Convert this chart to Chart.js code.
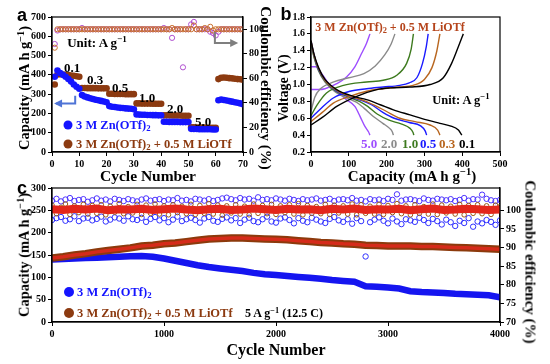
<!DOCTYPE html>
<html>
<head>
<meta charset="utf-8">
<script src="https://cdn.jsdelivr.net/npm/chart.js@4.4.1/dist/chart.umd.min.js"></script>
<style>
  body { margin:0; width:550px; height:364px; position:relative; overflow:hidden; background:#fff;
         font-family:"Liberation Serif","Times New Roman",serif; font-weight:bold; color:#000; }
  canvas { position:absolute; }
  .t { position:absolute; white-space:nowrap; line-height:1; transform:translate(-50%,-50%); }
  .l { position:absolute; white-space:nowrap; line-height:1; transform:translate(0,-50%); }
  .up { transform:translate(-50%,-50%) rotate(-90deg); }
  .dn { transform:translate(-50%,-50%) rotate(90deg); }
  .pl { font-family:"Liberation Sans",Arial,sans-serif; font-size:18px; }
  sub { font-size:70%; vertical-align:-0.25em; line-height:0; }
  sup { font-size:70%; vertical-align:0.5em; line-height:0; }
  .dot { position:absolute; border-radius:50%; transform:translate(-50%,-50%); width:9px; height:9px; }
</style>
</head>
<body>
<canvas id="ca" width="245" height="170" style="left:25px;top:0"></canvas>
<canvas id="cb" width="227" height="170" style="left:285px;top:0"></canvas>
<canvas id="cc" width="499" height="162" style="left:25px;top:178px"></canvas>

<!-- panel a text -->
<div class="t pl" style="left:22px;top:15px">a</div>
<div class="t" style="left:97px;top:42px;font-size:13px">Unit: A g<sup>−1</sup></div>
<div class="t" style="left:72px;top:67px;font-size:13px">0.1</div>
<div class="t" style="left:95px;top:79px;font-size:13px">0.3</div>
<div class="t" style="left:120px;top:87px;font-size:13px">0.5</div>
<div class="t" style="left:147px;top:97px;font-size:13px">1.0</div>
<div class="t" style="left:175px;top:108px;font-size:13px">2.0</div>
<div class="t" style="left:203px;top:121px;font-size:13px">5.0</div>
<div class="dot" style="left:68px;top:125px;background:#1414ff"></div>
<div class="l" style="left:76px;top:125px;font-size:12.5px;color:#1414ff">3 M Zn(OTf)<sub>2</sub></div>
<div class="dot" style="left:68px;top:144px;background:#8c3a10"></div>
<div class="l" style="left:76px;top:144px;font-size:12.5px;color:#8c3a10">3 M Zn(OTf)<sub>2</sub> + 0.5 M LiOTf</div>
<div class="t up" style="left:24px;top:88px;font-size:14.5px">Capacity (mA h g<sup>−1</sup>)</div>
<div class="t dn" style="left:265px;top:88px;font-size:15px">Coulombic efficiency (%)</div>
<div class="t" style="left:148px;top:176px;font-size:15.5px">Cycle Number</div>

<!-- panel b text -->
<div class="t pl" style="left:286px;top:14px">b</div>
<div class="t" style="left:390px;top:27px;font-size:12px;color:#b5441b">3 M Zn(OTf)<sub>2</sub> + 0.5 M LiOTf</div>
<div class="t" style="left:461px;top:100px;font-size:12.5px">Unit: A g<sup>−1</sup></div>
<div class="t" style="left:369px;top:143px;font-size:13px;color:#9d4dff">5.0</div>
<div class="t" style="left:389px;top:143px;font-size:13px;color:#8a8a8a">2.0</div>
<div class="t" style="left:410px;top:143px;font-size:13px;color:#3d7a1e">1.0</div>
<div class="t" style="left:428px;top:143px;font-size:13px;color:#1a1aff">0.5</div>
<div class="t" style="left:447px;top:143px;font-size:13px;color:#b8661f">0.3</div>
<div class="t" style="left:467px;top:143px;font-size:13px">0.1</div>
<div class="t up" style="left:284px;top:88px;font-size:14px">Voltage (V)</div>
<div class="t" style="left:412px;top:176px;font-size:15px">Capacity (mA h g<sup>−1</sup>)</div>

<!-- panel c text -->
<div class="t pl" style="left:22px;top:188px">c</div>
<div class="dot" style="left:69px;top:292px;width:10px;height:10px;background:#1414ff"></div>
<div class="l" style="left:77px;top:292px;font-size:12.5px;color:#1414ff">3 M Zn(OTf)<sub>2</sub></div>
<div class="dot" style="left:69px;top:313px;width:10px;height:10px;background:#8c3a10"></div>
<div class="l" style="left:77px;top:313px;font-size:12.5px;color:#8c3a10">3 M Zn(OTf)<sub>2</sub> + 0.5 M LiOTf</div>
<div class="t" style="left:284px;top:313px;font-size:12px">5 A g<sup>−1</sup> (12.5 C)</div>
<div class="t up" style="left:24px;top:255px;font-size:14.5px">Capacity (mA h g<sup>−1</sup>)</div>
<div class="t dn" style="left:530px;top:262px;font-size:15px">Coulombic efficiency (%)</div>
<div class="t" style="left:276px;top:350px;font-size:16px">Cycle Number</div>

<script>
// ---------- panel a: rate capability ----------
const cycA = Array.from({length: 70}, (_, i) => i + 1);
const capZnA = [390,422,410,400,390,378,365,350,338,328,
                295,288,283,279,275,271,268,265,262,258,
                238,235,233,231,229,228,226,225,224,222,
                195,194,193,193,192,192,191,191,190,190,
                157,157,156,156,156,156,155,155,155,155,
                120,119,119,118,118,118,118,118,117,117,
                268,272,270,267,264,261,258,255,252,248];
const capLiA = [350,402,403,402,400,399,397,395,393,390,
                332,332,331,331,331,331,330,330,330,330,
                302,302,301,301,301,301,300,300,300,300,
                252,252,251,251,251,251,250,250,250,250,
                190,190,190,189,189,189,189,188,188,188,
                128,128,127,127,127,127,126,126,126,125,
                378,385,386,385,383,382,380,378,377,375];
const ceZnA = [88,99,100,100,100,100,100,100,100,100,
               101,100,100,100,100,100,100,100,100,100,
               100,100,100,100,100,100,100,100,100,100,
               100,100,100,100,100,100,100,100,100,100,
               101,100,100,93,100,100,100,69,100,100,
               104,106,100,100,100,100,100,98,97,95,
               98,100,100,100,100,100,100,100,100,100];
const ceLiA = [85,100,100,100,100,100,100,100,100,100,
               100,100,100,100,100,100,100,100,100,100,
               100,100,100,100,100,100,100,100,100,100,
               100,100,100,100,100,100,100,100,100,100,
               100,100,100,101,100,100,100,100,100,100,
               100,103,100,100,100,101,100,102,99,100,
               100,100,100,100,100,100,100,100,100,100];

// ---------- panel b: charge / discharge profiles ----------
const rateLabels = ['0.1','0.3','0.5','1.0','2.0','5.0'];
const rateColors = ['#000000','#b8661f','#1a1aff','#3d7a1e','#8a8a8a','#9d4dff'];
const disCap = [
  [0,8,20,37,68,112,147,183,218,262,306,341,368,390,399],
  [0,8,20,37,68,110,140,170,200,235,275,315,335,341],
  [0,8,20,37,68,105,135,160,190,220,260,290,302,306],
  [0,8,20,37,66,100,128,150,175,205,240,262,270,272],
  [0,8,20,37,65,95,120,140,165,190,208,215,218],
  [0,12,25,45,68,94,116,130,143,152,156]
];
const disV = [
  [1.52,1.36,1.2,1.06,0.94,0.86,0.82,0.76,0.70,0.64,0.58,0.54,0.51,0.46,0.40],
  [1.52,1.35,1.19,1.05,0.93,0.85,0.81,0.75,0.68,0.60,0.56,0.52,0.46,0.40],
  [1.52,1.35,1.18,1.05,0.92,0.85,0.81,0.76,0.67,0.60,0.55,0.51,0.45,0.40],
  [1.50,1.33,1.17,1.04,0.92,0.85,0.80,0.74,0.65,0.58,0.53,0.48,0.43,0.40],
  [1.48,1.32,1.16,1.03,0.91,0.84,0.79,0.72,0.62,0.54,0.48,0.44,0.40],
  [1.21,1.21,1.15,1.02,0.92,0.82,0.74,0.62,0.50,0.44,0.40]
];
const chgCap = [
  [0,30,68,121,174,209,262,315,350,372,390,403],
  [0,30,59,103,147,191,235,270,300,320,333,341],
  [0,25,59,103,147,191,235,260,280,295,305,310],
  [0,15,41,86,147,191,227,253,265,271],
  [0,10,25,60,100,140,170,195,212,222],
  [0,20,37,68,94,116,134,147,156]
];
const chgV = [
  [0.52,0.61,0.74,0.86,0.94,0.96,0.97,1.00,1.08,1.25,1.45,1.60],
  [0.56,0.67,0.78,0.86,0.92,0.95,0.97,0.99,1.06,1.20,1.40,1.60],
  [0.60,0.71,0.84,0.92,0.95,0.97,0.99,1.02,1.08,1.25,1.45,1.60],
  [0.63,0.75,0.90,0.99,1.03,1.05,1.11,1.25,1.42,1.60],
  [0.68,0.85,0.95,1.03,1.08,1.13,1.22,1.35,1.48,1.60],
  [0.94,0.94,0.95,1.01,1.09,1.21,1.37,1.49,1.60]
];

// ---------- panel c: long cycling at 5 A/g ----------
const capZnC = [140,141,142,143,144,145,146,147,148,146,
                142,137,132,127,123,120,117,114,110,107,
                105,103,101,99,97,94,92,90,80,79,
                77,75,69,67,66,65,63,62,61,60,55];
const capLiC = [143,146,150,153,157,160,163,166,170,172,
                175,177,180,183,186,187,188,188,187,186,
                185,184,182,180,178,177,175,174,172,171,
                170,170,170,169,169,168,167,166,165,164,163];
const ceZnHiC = [102.6,103.1,102.4,102.9,103.3,102.5,102.8,103.0,102.3,102.7,
                 103.2,102.6,102.9,102.4,103.1,102.8,102.5,103.0,102.7,102.4,
                 102.9,103.2,102.6,102.8,103.0,102.5,102.9,102.7,103.3,102.6,
                 102.8,102.4,103.1,102.9,102.6,103.0,102.5,102.8,103.2,103.4,
                 103.0,102.7,103.3,102.9,103.1,102.6,103.5,102.8,103.0,102.7,
                 103.2,102.9,102.6,103.1,102.8,102.5,103.0,102.7,102.9,103.2,
                 102.6,102.8,103.1,102.5,102.9,103.0,102.7,103.3,102.6,102.8,
                 102.4,103.0,102.7,102.9,102.5,103.1,102.8,104.3,102.6,102.9,
                 103.0,102.7,102.5,103.2,102.8,102.6,103.1,102.9,102.7,103.0,
                 102.5,102.8,103.3,102.6,103.0,102.9,104.2,103.1,102.7,102.5,102.8];
const ceZnLoC = [97.4,97.9,98.2,97.2,97.6,98.4,97.1,97.8,98.0,97.3,
                 97.7,98.3,97.0,97.5,98.1,97.8,97.2,98.4,97.6,97.4,
                 98.0,96.9,97.7,98.2,97.3,97.9,96.8,97.5,98.3,97.1,
                 97.6,98.0,97.4,96.7,97.8,98.2,97.2,96.9,97.7,98.1,
                 97.3,97.9,96.6,97.5,98.0,97.1,96.8,97.6,98.3,97.0,
                 96.7,97.8,98.1,97.4,96.5,97.9,97.2,96.8,98.0,97.5,
                 97.0,96.6,97.7,98.2,97.3,96.9,97.6,96.4,97.9,97.1,
                 87.6,96.8,97.5,98.1,97.2,96.5,97.8,97.0,96.3,97.6,
                 97.3,96.9,98.0,97.4,96.6,97.7,97.1,96.2,97.5,96.8,
                 95.8,97.2,96.6,97.9,95.6,97.0,96.5,97.4,96.9,96.1,97.3];
const ceLiBrC = [101.4,99.1,100.8,101.7,98.9,101.2,99.4,101.6,99.0,101.3,
                 99.2,101.5,98.8,101.1,99.5,101.8,99.1,101.0,99.3,101.6,
                 98.9,101.4,99.2,101.7,99.0,101.2,98.8,101.5,99.4,101.1,
                 99.1,101.6,98.9,101.3,99.2,101.8,99.0,101.4,98.7,101.2,
                 99.3,101.5,99.0,101.1,98.8,101.7,99.2,101.3,99.1,101.6,
                 98.9,101.2,99.4,101.5,99.0,101.8,98.8,101.3,99.2,101.0,
                 99.1,101.6,98.9,101.4,99.3,101.2,99.0,101.7,98.8,101.5,
                 99.2,101.1,99.0,101.6,98.9,101.3,99.4,101.8,99.1,101.2,
                 98.8,101.5,99.2,101.0,99.0,101.7,98.9,101.4,99.3,101.1,
                 99.0,101.6,98.8,101.3,99.2,101.5,99.1,101.2,98.9,101.4,101.0];
const ceLiRedC = [100.3,100.1,100.4,100.2,100.5,100.0,100.3,100.2,100.4,100.1,
                  100.3,100.5,100.2,100.0,100.3,100.4,100.1,100.2,100.5,100.3,
                  100.1,100.4,100.2,100.3,100.0,100.4,100.2,100.5,100.1,100.3,
                  100.2,100.4,100.0,100.3,100.5,100.1,100.2,100.4,100.3,100.1,100.2];
const maxCycC = 4000;

// ---------- helpers ----------
const tickFont = { family: '"Liberation Serif", "Times New Roman", serif', weight: 'bold', size: 10 };

function axis(position, min, max, step, size, extra) {
  return Object.assign({
    type: 'linear', position: position, min: min, max: max,
    ticks: { stepSize: step, color: '#000', font: tickFont, padding: 2, autoSkip: false, maxRotation: 0,
             callback: v => String(v) },
    grid: { drawOnChartArea: false, drawTicks: true, tickLength: 4, color: '#000', lineWidth: 1 },
    border: { display: true, color: '#000', width: 1.2 },
    afterFit: s => { if (s.isHorizontal()) s.height = size; else s.width = size; }
  }, extra || {});
}

function spread(arr) {
  // x positions spread evenly over the cycle range
  const step = maxCycC / (arr.length - 1);
  return arr.map((v, i) => ({ x: i * step, y: v }));
}

const framePlugin = {
  id: 'frame',
  afterDraw(chart) {
    const a = chart.chartArea, ctx = chart.ctx;
    ctx.save();
    ctx.strokeStyle = '#000';
    ctx.lineWidth = 1.2;
    ctx.strokeRect(a.left, a.top, a.right - a.left, a.bottom - a.top);
    ctx.restore();
  }
};

function drawArrow(ctx, pts, color) {
  ctx.save();
  ctx.strokeStyle = color; ctx.fillStyle = color; ctx.lineWidth = 2;
  ctx.beginPath();
  ctx.moveTo(pts[0][0], pts[0][1]);
  for (let i = 1; i < pts.length; i++) ctx.lineTo(pts[i][0], pts[i][1]);
  ctx.stroke();
  const [x1, y1] = pts[pts.length - 2], [x2, y2] = pts[pts.length - 1];
  const ang = Math.atan2(y2 - y1, x2 - x1);
  ctx.beginPath();
  ctx.moveTo(x2 + 2 * Math.cos(ang), y2 + 2 * Math.sin(ang));
  ctx.lineTo(x2 - 6 * Math.cos(ang) + 4 * Math.sin(ang), y2 - 6 * Math.sin(ang) - 4 * Math.cos(ang));
  ctx.lineTo(x2 - 6 * Math.cos(ang) - 4 * Math.sin(ang), y2 - 6 * Math.sin(ang) + 4 * Math.cos(ang));
  ctx.closePath();
  ctx.fill();
  ctx.restore();
}

const arrowPlugin = {
  id: 'arrows',
  afterDatasetsDraw(chart) {
    const x = chart.scales.x, y = chart.scales.y, ctx = chart.ctx;
    const P = (cx, cy) => [x.getPixelForValue(cx), y.getPixelForValue(cy)];
    drawArrow(ctx, [P(8.5, 292), P(8.5, 252), P(1.5, 252)], '#4f74d6');
    drawArrow(ctx, [P(59.7, 622), P(59.7, 565), P(67.5, 565)], '#7f7f7f');
  }
};

const baseOpts = {
  responsive: false,
  animation: false,
  plugins: { legend: { display: false }, tooltip: { enabled: false } }
};

function dotSet(xs, ys, color, axisId, r) {
  return { data: xs.map((c, i) => ({ x: c, y: ys[i] })), yAxisID: axisId,
           pointRadius: r, pointBackgroundColor: color, pointBorderWidth: 0, showLine: false };
}
function ringSet(xs, ys, color, axisId, r) {
  return { data: xs.map((c, i) => ({ x: c, y: ys[i] })), yAxisID: axisId,
           pointRadius: r, pointBackgroundColor: 'rgba(0,0,0,0)', pointBorderColor: color,
           pointBorderWidth: 1, showLine: false };
}

// ---------- chart a ----------
new Chart(document.getElementById('ca'), {
  type: 'scatter',
  data: { datasets: [
    dotSet(cycA, capZnA, '#1414ff', 'y', 3.3),
    dotSet(cycA, capLiA, '#8c3a10', 'y', 3.3),
    ringSet(cycA, ceLiA, '#c8702e', 'y1', 2.6),
    ringSet(cycA, ceZnA, '#b050d0', 'y1', 2.6)
  ]},
  options: Object.assign({}, baseOpts, {
    layout: { padding: { top: 17, left: 0, right: 0, bottom: 0 } },
    scales: {
      x: axis('bottom', 0, 70, 10, 18),
      y: axis('left', 0, 700, 100, 27),
      y1: axis('right', 0, 110, 20, 27, {
        afterBuildTicks: s => { s.ticks = s.ticks.filter(t => t.value <= 100); }
      })
    }
  }),
  plugins: [framePlugin, arrowPlugin]
});

// ---------- chart b ----------
const setsB = [];
rateLabels.forEach((r, k) => {
  setsB.push({ label: 'dis ' + r, data: disCap[k].map((c, i) => ({ x: c, y: disV[k][i] })),
    showLine: true, borderColor: rateColors[k], borderWidth: 1.4, pointRadius: 0, cubicInterpolationMode: 'monotone' });
  setsB.push({ label: 'chg ' + r, data: chgCap[k].map((c, i) => ({ x: c, y: chgV[k][i] })),
    showLine: true, borderColor: rateColors[k], borderWidth: 1.4, pointRadius: 0, cubicInterpolationMode: 'monotone' });
});
new Chart(document.getElementById('cb'), {
  type: 'scatter',
  data: { datasets: setsB },
  options: Object.assign({}, baseOpts, {
    layout: { padding: { top: 17, left: 0, right: 12, bottom: 0 } },
    scales: {
      x: axis('bottom', 0, 500, 100, 18),
      y: axis('left', 0.2, 1.8, 0.2, 26, { ticks: { stepSize: 0.2, color: '#000', font: tickFont, padding: 2,
            callback: v => v.toFixed(1) } })
    }
  }),
  plugins: [framePlugin]
});

// ---------- chart c ----------
new Chart(document.getElementById('cc'), {
  type: 'scatter',
  data: { datasets: [
    { data: spread(ceLiRedC), yAxisID: 'y1', showLine: true, borderColor: '#e3261b', borderWidth: 8,
      pointRadius: 0, order: 0 },
    { data: spread(ceLiBrC), yAxisID: 'y1', pointRadius: 2.3, pointBackgroundColor: 'rgba(0,0,0,0)',
      pointBorderColor: '#9a5a14', pointBorderWidth: 1, order: 1 },
    { data: spread(ceZnHiC), yAxisID: 'y1', pointRadius: 2.7, pointBackgroundColor: 'rgba(0,0,0,0)',
      pointBorderColor: '#4b32ff', pointBorderWidth: 1, order: 2 },
    { data: spread(ceZnLoC), yAxisID: 'y1', pointRadius: 2.7, pointBackgroundColor: 'rgba(0,0,0,0)',
      pointBorderColor: '#2f2fff', pointBorderWidth: 1, order: 2 },
    { data: spread(capLiC), yAxisID: 'y', showLine: true, borderColor: '#d52b1a', borderWidth: 3.5,
      pointRadius: 0, order: 3 },
    { data: spread(capLiC), yAxisID: 'y', showLine: true, borderColor: '#8c3a0c', borderWidth: 7.5,
      pointRadius: 0, order: 4 },
    { data: spread(capZnC), yAxisID: 'y', showLine: true, borderColor: '#1515f0', borderWidth: 6.5,
      pointRadius: 0, order: 5 }
  ]},
  options: Object.assign({}, baseOpts, {
    layout: { padding: { top: 10, left: 0, right: 0, bottom: 0 } },
    scales: {
      x: axis('bottom', 0, 4000, 1000, 18),
      y: axis('left', 0, 300, 50, 27),
      y1: axis('right', 70, 106, 5, 24, {
        afterBuildTicks: s => { s.ticks = s.ticks.filter(t => t.value <= 105); }
      })
    }
  }),
  plugins: [framePlugin]
});
</script>
</body>
</html>
